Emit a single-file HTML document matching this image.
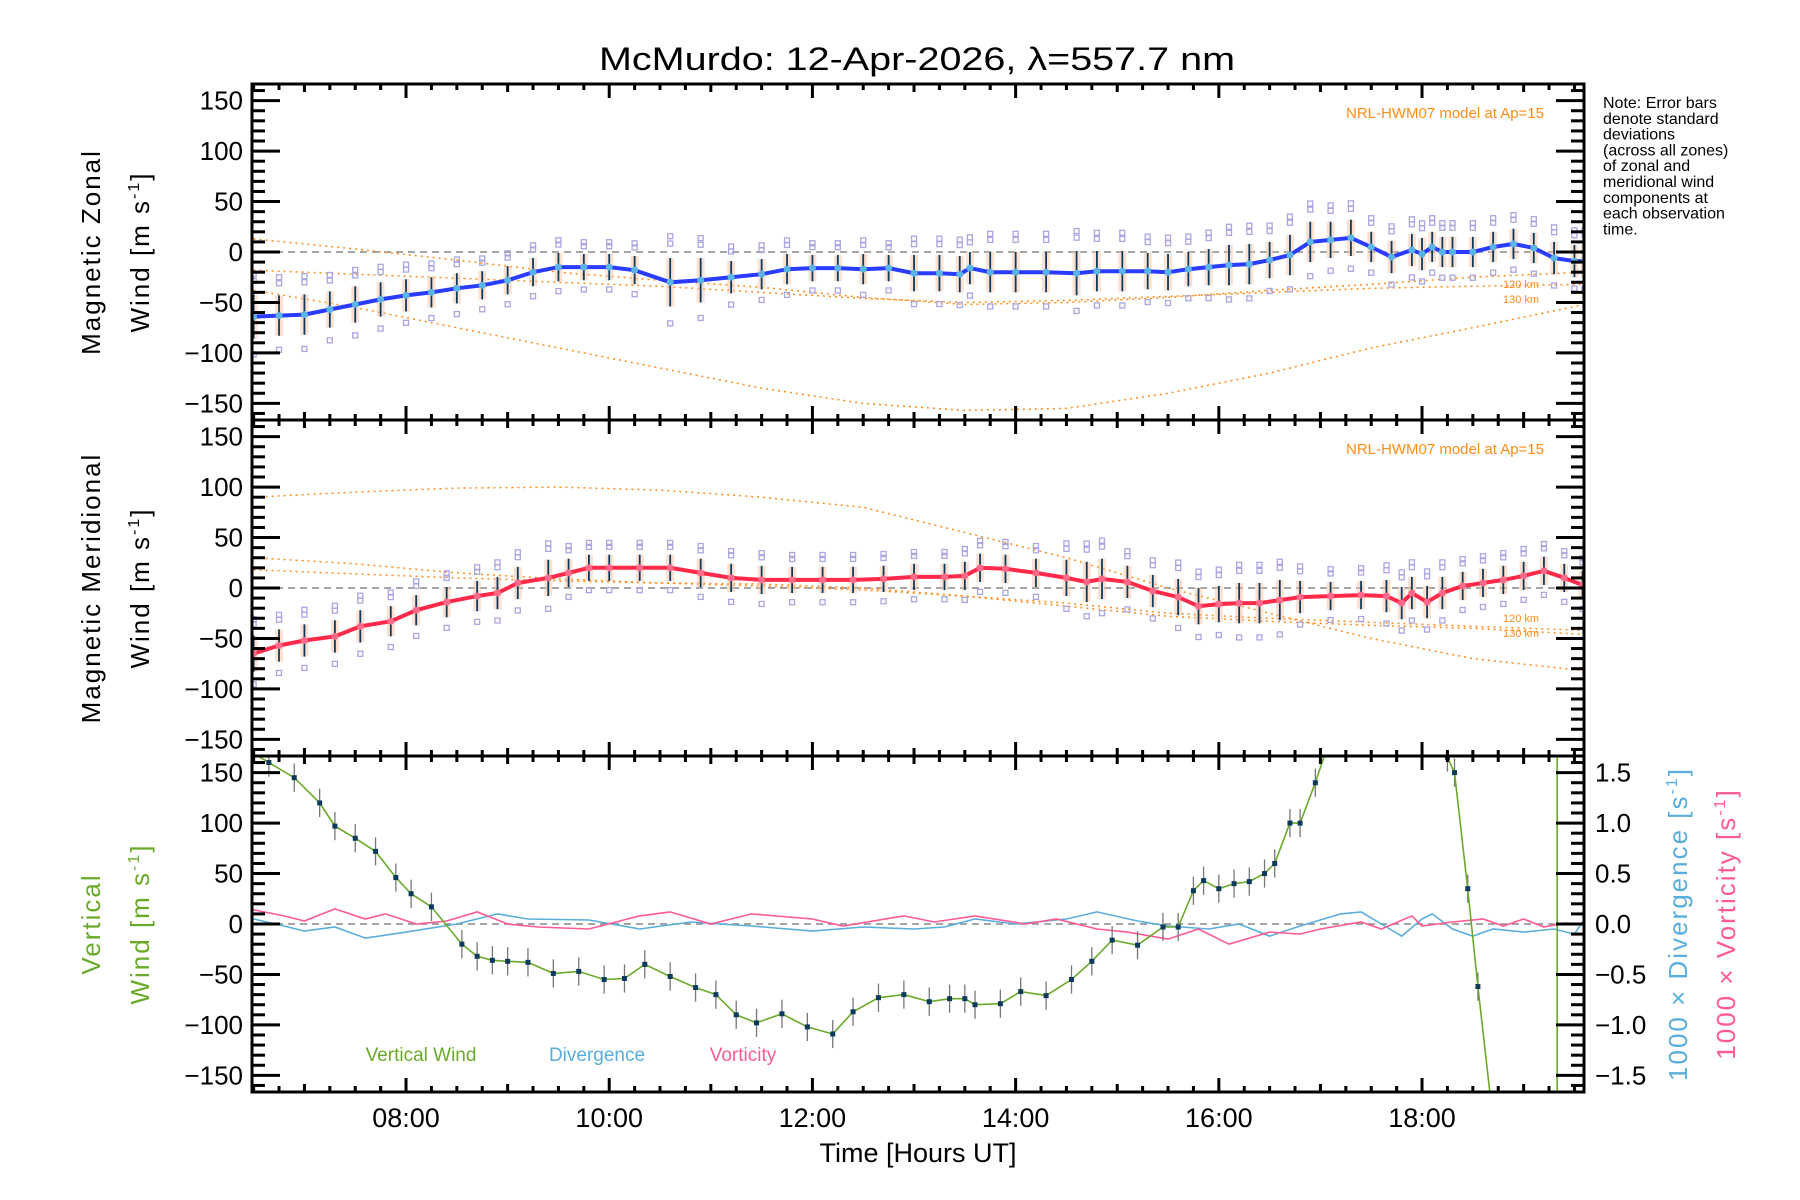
<!DOCTYPE html>
<html><head><meta charset="utf-8">
<style>
html,body{margin:0;padding:0;background:#fff;width:1800px;height:1200px;overflow:hidden;}
svg{display:block;font-family:"Liberation Sans",sans-serif;}
</style></head>
<body>
<svg id="chart" width="1800" height="1200" viewBox="0 0 1800 1200" xmlns="http://www.w3.org/2000/svg">
<defs>
<clipPath id="clip1"><rect x="252" y="84" width="1332" height="336"/></clipPath>
<clipPath id="clip2"><rect x="252" y="420" width="1332" height="336"/></clipPath>
<clipPath id="clip3"><rect x="252" y="756" width="1332" height="336"/></clipPath>
</defs>
<text x="917" y="70" font-size="32" text-anchor="middle" textLength="636" lengthAdjust="spacingAndGlyphs">McMurdo: 12-Apr-2026, λ=557.7 nm</text>
<g id="layer"></g>
<text font-size="16" x="1603" y="108">
<tspan x="1603" dy="0">Note: Error bars</tspan>
<tspan x="1603" dy="15.8">denote standard</tspan>
<tspan x="1603" dy="15.8">deviations</tspan>
<tspan x="1603" dy="15.8">(across all zones)</tspan>
<tspan x="1603" dy="15.8">of zonal and</tspan>
<tspan x="1603" dy="15.8">meridional wind</tspan>
<tspan x="1603" dy="15.8">components at</tspan>
<tspan x="1603" dy="15.8">each observation</tspan>
<tspan x="1603" dy="15.8">time.</tspan>
</text>
<text transform="translate(100,252) rotate(-90)" font-size="26" text-anchor="middle" letter-spacing="2">Magnetic Zonal</text>
<text transform="translate(149,252) rotate(-90)" font-size="26" text-anchor="middle" letter-spacing="2">Wind [m s<tspan font-size="16" dy="-10">-1</tspan><tspan dy="10">]</tspan></text>
<text transform="translate(100,588) rotate(-90)" font-size="26" text-anchor="middle" letter-spacing="2">Magnetic Meridional</text>
<text transform="translate(149,588) rotate(-90)" font-size="26" text-anchor="middle" letter-spacing="2">Wind [m s<tspan font-size="16" dy="-10">-1</tspan><tspan dy="10">]</tspan></text>
<text transform="translate(100,924) rotate(-90)" font-size="26" text-anchor="middle" fill="#6aaa2a" letter-spacing="2">Vertical</text>
<text transform="translate(149,924) rotate(-90)" font-size="26" text-anchor="middle" fill="#6aaa2a" letter-spacing="2">Wind [m s<tspan font-size="16" dy="-10">-1</tspan><tspan dy="10">]</tspan></text>
<text transform="translate(1687,924) rotate(-90)" font-size="26" text-anchor="middle" fill="#5aaedc" letter-spacing="2">1000 × Divergence [s<tspan font-size="16" dy="-10">-1</tspan><tspan dy="10">]</tspan></text>
<text transform="translate(1735,924) rotate(-90)" font-size="26" text-anchor="middle" fill="#ff5a96" letter-spacing="2">1000 × Vorticity [s<tspan font-size="16" dy="-10">-1</tspan><tspan dy="10">]</tspan></text>
<text x="918" y="1162" font-size="27" text-anchor="middle">Time [Hours UT]</text>
<text x="421" y="1061" font-size="19" text-anchor="middle" fill="#6aaa2a">Vertical Wind</text>
<text x="597" y="1061" font-size="19" text-anchor="middle" fill="#5aaedc">Divergence</text>
<text x="743" y="1061" font-size="19" text-anchor="middle" fill="#ff5a96">Vorticity</text>
<text x="1544" y="118" font-size="15" text-anchor="end" fill="#ff8c1a">NRL-HWM07 model at Ap=15</text>
<text x="1544" y="454" font-size="15" text-anchor="end" fill="#ff8c1a">NRL-HWM07 model at Ap=15</text>
<text x="1521" y="288" font-size="11" text-anchor="middle" fill="#ff8c1a">120 km</text>
<text x="1521" y="303" font-size="11" text-anchor="middle" fill="#ff8c1a">130 km</text>
<text x="1521" y="622" font-size="11" text-anchor="middle" fill="#ff8c1a">120 km</text>
<text x="1521" y="637" font-size="11" text-anchor="middle" fill="#ff8c1a">130 km</text>
</svg>
<script>
// ---- data ----
const zonalTimes = [6.5,6.75,7.0,7.25,7.5,7.75,8.0,8.25,8.5,8.75,9.0,9.25,9.5,9.75,10.0,10.25,10.6,10.9,11.2,11.5,11.75,12.0,12.25,12.5,12.75,13.0,13.25,13.45,13.55,13.75,14.0,14.3,14.6,14.8,15.05,15.3,15.5,15.7,15.9,16.1,16.3,16.5,16.7,16.9,17.1,17.3,17.5,17.7,17.9,18.0,18.1,18.2,18.3,18.5,18.7,18.9,19.1,19.3,19.5,19.6];
const zonalWind  = [-64,-63,-62,-57,-52,-47,-43,-40,-36,-33,-28,-20,-15,-15,-15,-18,-30,-28,-25,-22,-17,-16,-16,-17,-16,-21,-21,-22,-16,-20,-20,-20,-21,-19,-19,-19,-20,-17,-15,-13,-12,-8,-3,10,12,14,5,-5,2,-2,5,0,0,0,5,8,4,-6,-9,-9];
const zonalErr   = [22,20,20,18,18,17,16,15,15,14,14,14,14,13,13,14,24,22,16,15,15,13,13,15,13,18,18,18,16,20,20,20,22,20,20,18,18,17,18,20,20,18,20,20,18,18,15,16,16,16,15,15,15,15,15,15,15,16,16,16];
const merTimes = [6.5,6.75,7.0,7.3,7.55,7.85,8.1,8.4,8.7,8.9,9.1,9.4,9.6,9.8,10.0,10.3,10.6,10.9,11.2,11.5,11.8,12.1,12.4,12.7,13.0,13.3,13.5,13.65,13.9,14.2,14.5,14.7,14.85,15.1,15.35,15.6,15.8,16.0,16.2,16.4,16.6,16.8,17.1,17.4,17.65,17.8,17.9,18.05,18.2,18.4,18.6,18.8,19.0,19.2,19.4,19.58];
const merWind  = [-65,-57,-52,-48,-38,-33,-22,-14,-8,-5,5,10,15,20,20,20,20,15,10,8,8,8,8,9,11,11,12,20,19,15,10,6,9,6,-3,-9,-18,-16,-15,-15,-12,-9,-8,-7,-8,-15,-5,-14,-5,2,5,8,12,17,10,3];
const merErr   = [18,16,16,16,16,15,15,15,15,16,16,18,14,13,13,13,13,14,14,14,13,13,13,13,13,13,14,14,14,14,18,20,20,16,16,18,18,18,20,20,20,16,14,14,16,16,16,16,16,14,14,14,14,14,14,14];
const modelTimes = [6.5,7.5,8.5,9.5,10.5,11.5,12.5,13.5,14.5,15.5,16.5,17.5,18.5,19.6];
const zonalModelA = [-38,-55,-75,-95,-115,-135,-150,-157,-155,-140,-120,-95,-75,-52];
const zonalModelB = [13,3,-8,-20,-28,-35,-45,-52,-50,-45,-38,-32,-25,-20];
const zonalModelC = [-18,-22,-26,-30,-34,-40,-46,-50,-48,-44,-40,-36,-34,-32];
const merModelA = [90,95,99,100,97,90,80,55,30,0,-25,-50,-70,-82];
const merModelB = [30,24,15,9,5,2,-2,-8,-15,-25,-30,-34,-38,-42];
const merModelC = [18,14,10,7,5,4,0,-8,-18,-28,-33,-37,-40,-46];
const vertTimes = [6.4,6.65,6.9,7.15,7.3,7.5,7.7,7.9,8.05,8.25,8.55,8.7,8.85,9.0,9.2,9.45,9.7,9.95,10.15,10.35,10.6,10.85,11.05,11.25,11.45,11.7,11.95,12.2,12.4,12.65,12.9,13.15,13.35,13.5,13.6,13.85,14.05,14.3,14.55,14.75,14.95,15.2,15.45,15.6,15.75,15.85,16.0,16.15,16.3,16.45,16.55,16.7,16.8,16.95,17.05,17.6,18.0,18.25,18.32,18.45,18.55,18.75,19.33,19.33];
const vertWind  = [175,160,145,120,97,85,72,46,30,17,-20,-32,-36,-37,-38,-49,-47,-55,-54,-40,-52,-63,-70,-90,-98,-89,-102,-109,-87,-73,-70,-77,-74,-74,-80,-79,-67,-71,-55,-37,-16,-21,-3,-3,33,43,35,40,42,50,60,100,100,140,170,400,400,165,150,35,-62,-240,-250,400];
const divTimes = [6.5,6.8,7.0,7.3,7.6,8.0,8.5,8.9,9.2,9.8,10.3,10.8,11.4,12.0,12.5,13.0,13.3,13.6,14.0,14.5,14.8,15.2,15.5,15.9,16.2,16.5,16.8,17.2,17.4,17.6,17.8,18.0,18.1,18.3,18.5,18.7,19.0,19.3,19.5,19.6];
const divValues = [0.05,-0.02,-0.07,-0.03,-0.14,-0.08,0.0,0.1,0.05,0.04,-0.05,0.02,-0.02,-0.07,-0.03,-0.05,-0.03,0.05,0.0,0.05,0.12,0.03,-0.02,-0.05,0.0,-0.12,-0.02,0.1,0.12,0.0,-0.12,0.05,0.1,-0.05,-0.12,-0.05,-0.08,-0.05,-0.1,0.05];
const vortTimes = [6.5,6.8,7.0,7.3,7.6,7.8,8.1,8.4,8.7,9.0,9.3,9.8,10.3,10.6,11.0,11.4,12.0,12.3,12.9,13.2,13.6,14.1,14.4,14.8,15.1,15.5,15.8,16.1,16.5,16.8,17.0,17.4,17.6,17.9,18.0,18.3,18.6,18.8,19.0,19.2,19.4,19.6];
const vortValues = [0.14,0.08,0.03,0.15,0.05,0.1,0.0,0.03,0.12,0.0,-0.03,-0.05,0.08,0.12,0.0,0.1,0.05,-0.02,0.08,0.02,0.08,0.0,0.05,-0.05,-0.08,-0.15,-0.05,-0.2,-0.08,-0.1,-0.05,0.02,-0.05,0.08,-0.02,0.02,0.05,-0.02,0.05,-0.03,0.01,0.0];
const xTickHours = [8,10,12,14,16,18];
const xTickLabels = ["08:00","10:00","12:00","14:00","16:00","18:00"];
const yTickValues = [-150,-100,-50,0,50,100,150];
const rTickValues = [-1.5,-1.0,-0.5,0.0,0.5,1.0,1.5];
const rTickLabels = ["\u22121.5","\u22121.0","\u22120.5","0.0","0.5","1.0","1.5"];

// ---- geometry ----
const X0=252, X1=1584, H0=6.484, PXH=101.6;
const panels=[{top:84},{top:420},{top:756}];
const PH=336, YR=166.5;
function xs(h){return X0+(h-H0)*PXH;}
function ys(p,v){return panels[p].top+PH/2 - v*(PH/(2*YR));}
function yr(p,v){return ys(p,v*100);}
const NS="http://www.w3.org/2000/svg";
const layer=document.getElementById('layer');
function mk(tag,attrs,parent){const e=document.createElementNS(NS,tag);for(const k in attrs)e.setAttribute(k,attrs[k]);(parent||layer).appendChild(e);return e;}
function poly(p,ts,vs,f){return ts.map((t,i)=>xs(t).toFixed(1)+','+f(p,vs[i]).toFixed(1)).join(' ');}

function drawPanel(p){
  const g=mk('g',{'clip-path':'url(#clip'+(p+1)+')'});
  
  
  const z=mk('line',{x1:X0,x2:X1,y1:ys(p,0),y2:ys(p,0),stroke:'#888','stroke-width':1.5,'stroke-dasharray':'7,5'},g);
  
  
  return g;
}
function drawAxes(p,rightLabels){
  const top=panels[p].top, bot=top+PH;
  const g=mk('g',{stroke:'#000',fill:'none'});
  
  
  mk('rect',{x:X0,y:top,width:X1-X0,height:PH,'stroke-width':3},g);
  for(let h=6.5;h<=19.6;h+=0.25){
    const major=Math.abs(h-Math.round(h))<1e-6;
    const L=major?(Math.round(h)%2===0?14:8):6;
    const x=xs(h);
    mk('line',{x1:x,x2:x,y1:top,y2:top+L,'stroke-width':3},g);
    mk('line',{x1:x,x2:x,y1:bot,y2:bot-L,'stroke-width':3},g);
  }
  for(let v=-160;v<=160;v+=10){
    const y=ys(p,v), L=(v%50===0)?28:13;
    mk('line',{x1:X0,x2:X0+L,y1:y,y2:y,'stroke-width':3},g);
    mk('line',{x1:X1,x2:X1-L,y1:y,y2:y,'stroke-width':3},g);
  }
  yTickValues.forEach(v=>{
    const t=mk('text',{x:243,y:ys(p,v)+9,'font-size':26,'text-anchor':'end',fill:'#000',stroke:'none'});
    
    
    t.textContent=(v<0?'\u2212':'')+Math.abs(v);
  });
  if(rightLabels){
    rTickValues.forEach((v,i)=>{
      const t=mk('text',{x:1595,y:yr(p,v)+9,'font-size':26,fill:'#000',stroke:'none'});
      
      
      t.textContent=rTickLabels[i];
    });
  }
}
function windPanel(p,ts,vs,err,models,color){
  const g=drawPanel(p);
  models.forEach(m=>{
    const l=mk('polyline',{points:poly(p,modelTimes,m,ys),fill:'none',stroke:'#ff8c1a','stroke-width':1.5,'stroke-dasharray':'2,4'},g);
    
    
  });
  ts.forEach((t,i)=>{
    const x=xs(t);
    const pb=mk('rect',{x:x-4,y:ys(p,vs[i]+err[i]),width:8,height:ys(p,vs[i]-err[i])-ys(p,vs[i]+err[i]),fill:'#fbc3a8',opacity:0.5},g);
    
    
    [1.6,1.9,-1.7].forEach(k=>{
      const s=mk('rect',{x:x-2.5,y:ys(p,vs[i]+k*err[i])-2.5,width:5,height:5,fill:'none',stroke:'#a9a6e0','stroke-width':1.3},g);
      
      
    });
    const e=mk('line',{x1:x,x2:x,y1:ys(p,vs[i]+err[i]),y2:ys(p,vs[i]-err[i]),stroke:'#0c3a5a','stroke-width':1.8},g);
    
    
  });
  const line=mk('polyline',{points:poly(p,ts,vs,ys),fill:'none',stroke:color,'stroke-width':4},g);
  
  
  ts.forEach((t,i)=>{
    const c=mk('circle',{cx:xs(t),cy:ys(p,vs[i]),r:3.5,fill:p===0?'#5ab4e6':'#ff6a8a'},g);
    
    
  });
}
windPanel(0,zonalTimes,zonalWind,zonalErr,[zonalModelA,zonalModelB,zonalModelC],'#2a3cff');
windPanel(1,merTimes,merWind,merErr,[merModelA,merModelB,merModelC],'#ff2a4a');

const g3=drawPanel(2);
const dv=mk('polyline',{points:poly(2,divTimes,divValues,yr),fill:'none',stroke:'#5aaedc','stroke-width':1.6},g3);


const vt=mk('polyline',{points:poly(2,vortTimes,vortValues,yr),fill:'none',stroke:'#ff5a96','stroke-width':1.6},g3);


vertTimes.forEach((t,i)=>{
  if(Math.abs(vertWind[i])<166){
    const e=mk('line',{x1:xs(t),x2:xs(t),y1:ys(2,vertWind[i]+14),y2:ys(2,vertWind[i]-14),stroke:'#777','stroke-width':1.3},g3);
    
    
  }
});
const vw=mk('polyline',{points:poly(2,vertTimes,vertWind,ys),fill:'none',stroke:'#6aaa2a','stroke-width':1.6},g3);


vertTimes.forEach((t,i)=>{
  if(Math.abs(vertWind[i])<166){
    const c=mk('rect',{x:xs(t)-2.5,y:ys(2,vertWind[i])-2.5,width:5,height:5,fill:'#0c3a5a'},g3);
    
    
  }
});

drawAxes(0,false);drawAxes(1,false);drawAxes(2,true);
xTickHours.forEach((h,i)=>{
  const t=mk('text',{x:xs(h),y:1127,'font-size':27,'text-anchor':'middle'});
  
  
  t.textContent=xTickLabels[i];
});
</script>
</body></html>
